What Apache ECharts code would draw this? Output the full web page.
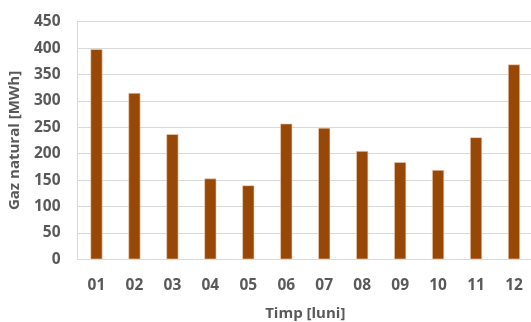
<!DOCTYPE html>
<html>
<head>
<meta charset="utf-8">
<script src="https://cdn.jsdelivr.net/npm/echarts@6/dist/echarts.min.js"></script>
<style>
html,body{margin:0;padding:0;background:#fff;}
#chart{width:531px;height:322px;}
</style>
</head>
<body>
<div id="chart"></div>
<script>
// luni si consum gaz
var months = ['01','02','03','04','05','06','07','08','09','10','11','12'];
var gasValues = [398, 315, 237, 153, 140, 257, 249, 205, 184, 169, 231, 369];
var yTicks = {min: 0, max: 450, step: 50};

var myChart = echarts.init(document.getElementById('chart'));
var labelFont = '"Open Sans", "DejaVu Sans", sans-serif';

var option = {
	animation: false,
	backgroundColor: '#ffffff',
	grid: {
		left: 77.5,
		right: -2,
		top: 21.7,
		bottom: 62.7,
		outerBoundsMode: 'none'
	},
	xAxis: {
		type: 'category',
		data: months,
		name: 'Timp [luni]',
		nameLocation: 'middle',
		nameGap: 47,
		nameTextStyle: {color: '#595959', fontWeight: 'bold', fontSize: 15, fontFamily: labelFont},
		axisLine: {lineStyle: {color: '#d9d9d9', width: 1}},
		axisTick: {show: false},
		axisLabel: {color: '#595959', fontWeight: 'bold', fontSize: 15.5, fontFamily: labelFont, margin: 18}
	},
	yAxis: {
		type: 'value',
		min: yTicks.min,
		max: yTicks.max,
		interval: yTicks.step,
		name: 'Gaz natural [MWh]',
		nameLocation: 'middle',
		nameGap: 55,
		nameTextStyle: {color: '#595959', fontWeight: 'bold', fontSize: 15, fontFamily: labelFont},
		axisLine: {show: true, lineStyle: {color: '#d9d9d9', width: 1}},
		axisTick: {show: false},
		axisLabel: {color: '#595959', fontWeight: 'bold', fontSize: 15.5, fontFamily: labelFont, margin: 17},
		splitLine: {lineStyle: {color: '#d9d9d9', width: 1}}
	},
	series: [{
		type: 'bar',
		data: gasValues,
		barWidth: 12,
		itemStyle: {color: '#974706', borderColor: '#f2d3bb', borderWidth: 0.6}
	}]
};
myChart.setOption(option);
</script>
</body>
</html>
